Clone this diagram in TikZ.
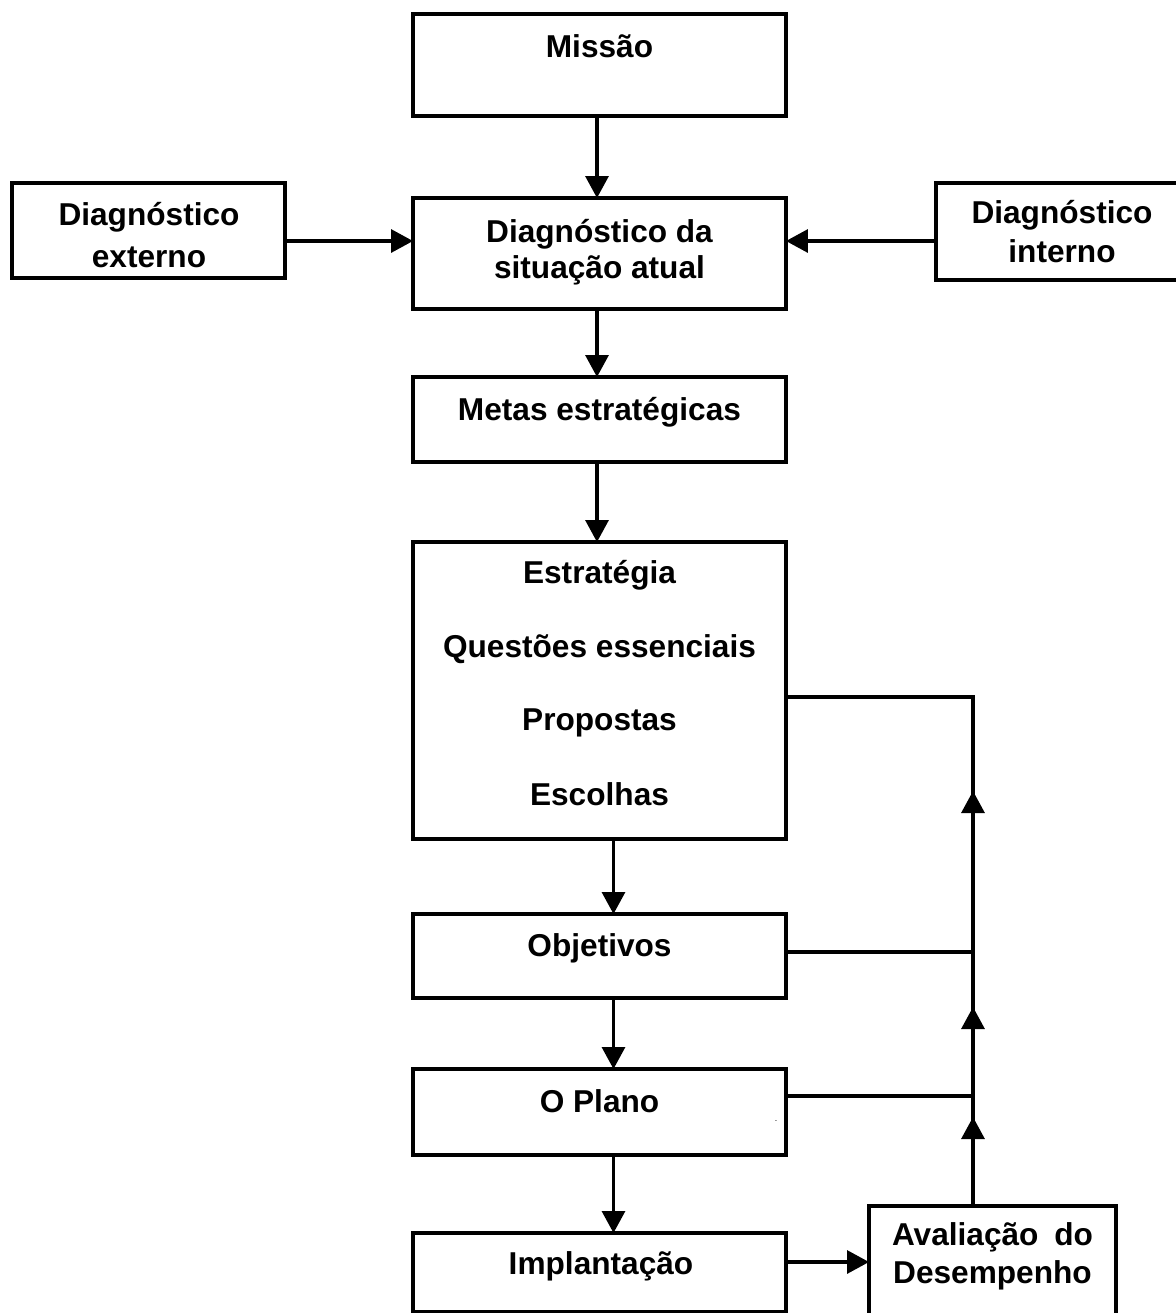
\documentclass[tikz,border=0pt]{standalone}
\usepackage{fontspec}
\setmainfont{Liberation Sans}
\usetikzlibrary{arrows.meta}
\begin{document}
\begin{tikzpicture}[x=0.02cm,y=-0.02cm,
 box/.style={draw, line width=1.8pt, inner sep=0pt, outer sep=0pt, minimum width=7.46cm},
 lbl/.style={anchor=base, inner sep=0pt, font=\fontsize{18}{21}\selectfont\bfseries},
 arr/.style={line width=1.8pt, -{Triangle[length=0.44cm,width=0.46cm]}},
 ln/.style={line width=1.8pt}]
\useasboundingbox (0,0) rectangle (1176,1313);
\clip (0,0) rectangle (1176,1313);
% boxes
\node[box, minimum height=2.04cm] (mis) at (599.5,65) {};
\node[box, minimum height=2.22cm] (dsa) at (599.5,253.5) {};
\node[box, minimum width=5.46cm, minimum height=1.90cm] (dext) at (148.5,230.5) {};
\node[box, minimum width=5.28cm, minimum height=1.94cm] (dint) at (1068,231.5) {};
\node[box, minimum height=1.70cm] (met) at (599.5,419.5) {};
\node[box, minimum height=5.94cm] (est) at (599.5,690.5) {};
\node[box, minimum height=1.68cm] (obj) at (599.5,956) {};
\node[box, minimum height=1.72cm] (pla) at (599.5,1112) {};
\node[box, minimum height=1.58cm] (imp) at (599.5,1272.5) {};
\node[box, minimum width=4.94cm, minimum height=2.48cm] (ava) at (992.5,1268) {};
% labels
\node[lbl] (tmis) at (599.5,57) {Missão};
\node[lbl] (tdsa1) at (599.5,242) {Diagnóstico da};
\node[lbl] (tdsa2) at (599.5,278) {situação atual};
\node[lbl] (tdext1) at (149,225) {Diagnóstico};
\node[lbl] (tdext2) at (149,267) {externo};
\node[lbl] (tdint1) at (1062,223) {Diagnóstico};
\node[lbl] (tdint2) at (1062,262) {interno};
\node[lbl] (tmet) at (599.5,420) {Metas estratégicas};
\node[lbl] (test1) at (599.5,583) {Estratégia};
\node[lbl] (test2) at (599.5,657) {Questões essenciais};
\node[lbl] (test3) at (599.5,730) {Propostas};
\node[lbl] (test4) at (599.5,805) {Escolhas};
\node[lbl] (tobj) at (599.5,956) {Objetivos};
\node[lbl] (tpla) at (599.5,1112) {O Plano};
\node[lbl] (timp) at (601,1274) {Implantação};
\node[lbl] (tava1) at (992.5,1245) {\makebox[4.02cm][s]{Avaliação do}};
\node[lbl] (tava2) at (992.5,1283) {Desempenho};
\node[inner sep=0pt, font=\fontsize{5}{6}\selectfont] (dot) at (776,1121) {.};
% coordinates
\coordinate (y241) at (0,241);
\coordinate (y1262) at (0,1262);
\coordinate (j1) at (973,1096);
\coordinate (j2) at (973,952);
\coordinate (j3) at (973,697);
\coordinate (h1) at (973,1117);
\coordinate (h2) at (973,1007);
\coordinate (h3) at (973,791);
\coordinate (a0) at (973,1206);
% main arrows
\draw[arr] ([xshift=-0.05cm]mis.south) -- ([xshift=-0.05cm]dsa.north);
\draw[arr] ([xshift=-0.05cm]dsa.south) -- ([xshift=-0.05cm]met.north);
\draw[arr] ([xshift=-0.05cm]met.south) -- ([xshift=-0.05cm]est.north);
\draw[arr] ([xshift=0.28cm]est.south) -- ([xshift=0.28cm]obj.north);
\draw[arr] ([xshift=0.28cm]obj.south) -- ([xshift=0.28cm]pla.north);
\draw[arr] ([xshift=0.28cm]pla.south) -- ([xshift=0.28cm]imp.north);
\draw[arr] (dext.east |- y241) -- (dsa.west |- y241);
\draw[arr] (dint.west |- y241) -- (dsa.east |- y241);
\draw[arr] (imp.east |- y1262) -- (ava.west |- y1262);
% feedback
\draw[ln] (a0) -- (j1) -- (pla.east |- j1);
\draw[ln] (j1) -- (j2) -- (obj.east |- j2);
\draw[ln] (j2) -- (j3) -- (est.east |- j3);
\draw[arr] (a0) -- (h1);
\draw[arr] (j1) -- (h2);
\draw[arr] (j2) -- (h3);
\end{tikzpicture}
\end{document}
